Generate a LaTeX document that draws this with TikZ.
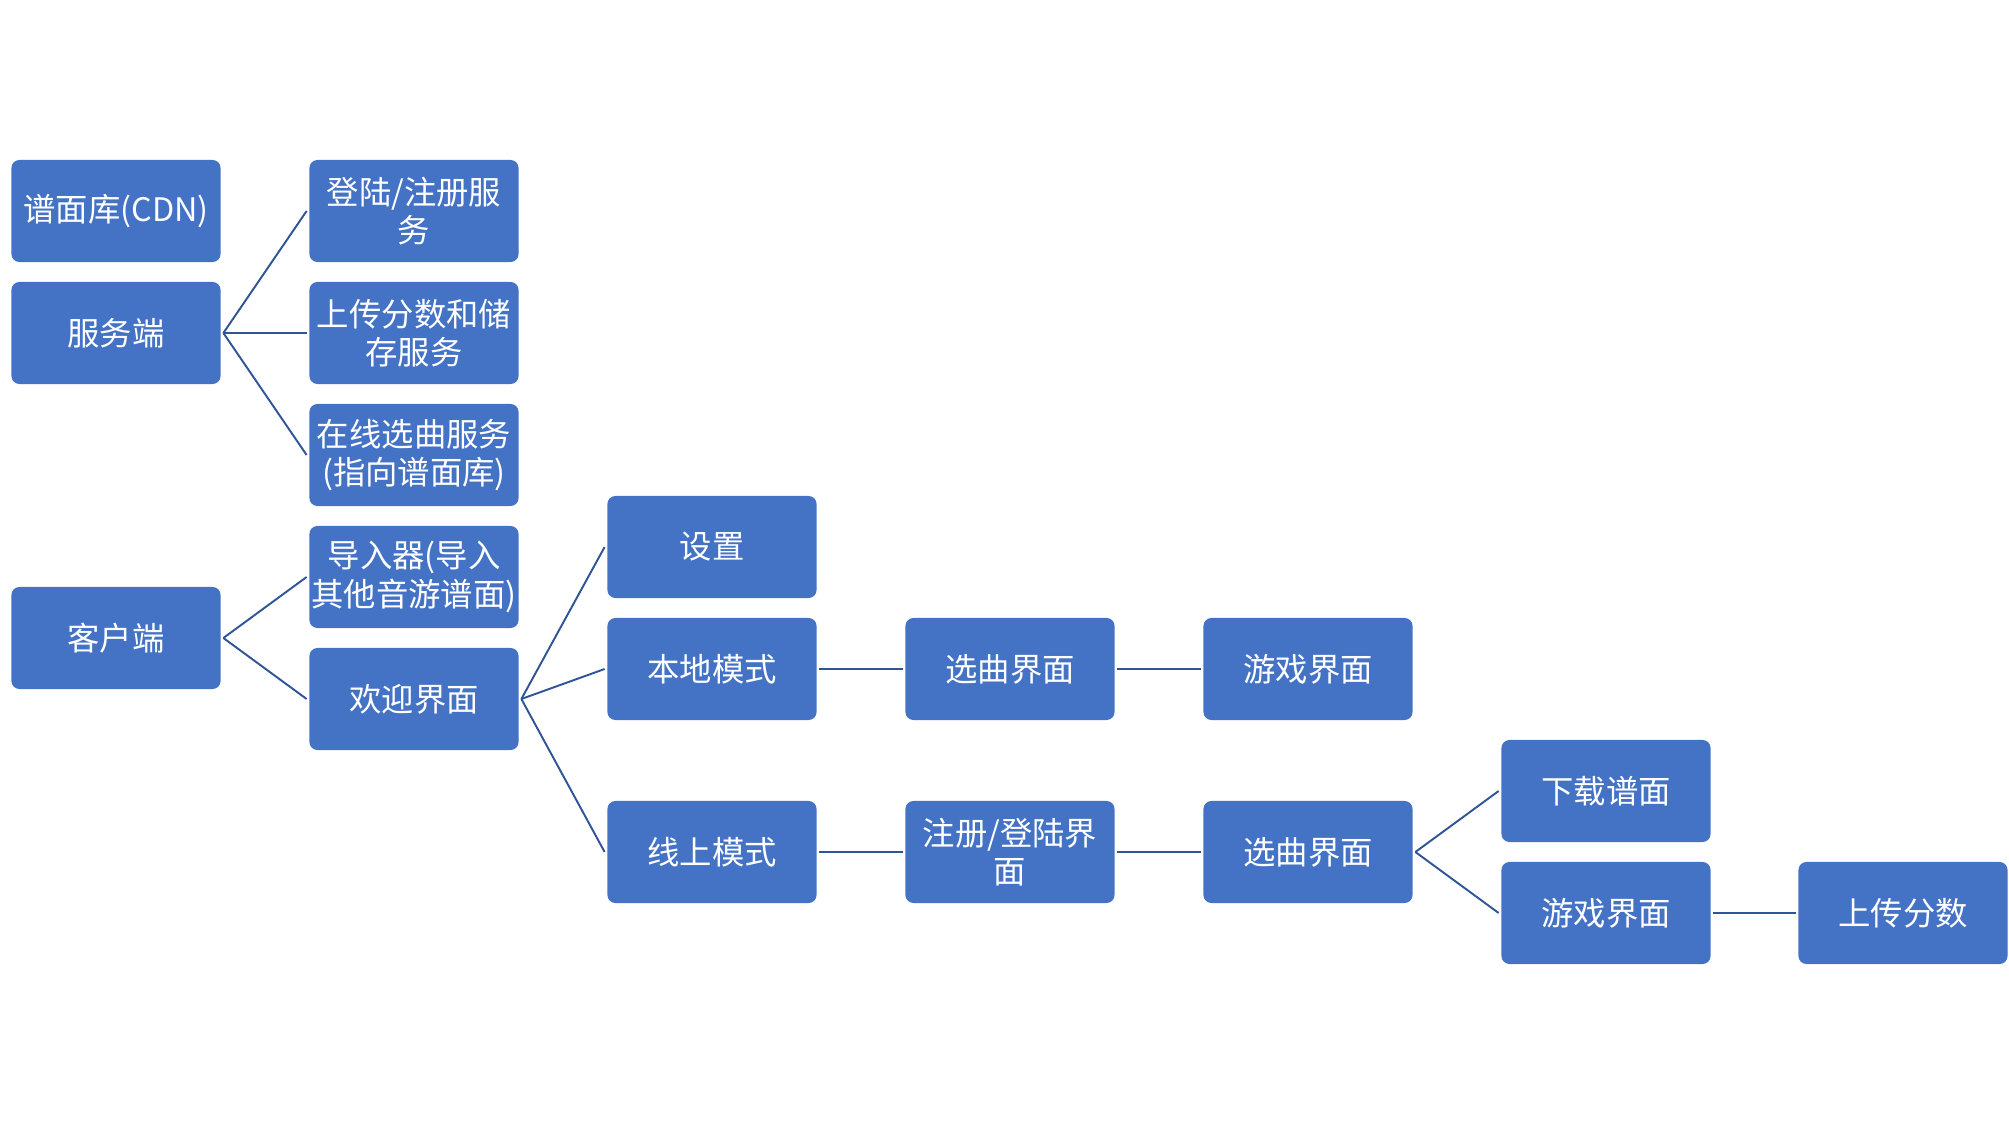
\documentclass[tikz,border=0pt]{standalone}
\usepackage{fontspec}
\setmainfont{Noto Sans CJK SC}
\definecolor{boxblue}{HTML}{4472C4}
\definecolor{lineblue}{HTML}{2F5597}
\tikzset{
    box/.style={rectangle, rounded corners=0.08cm, fill=boxblue, text=white,
        minimum width=2.09cm, minimum height=1.02cm, inner sep=0pt, align=center,
        font=\fontsize{9.2}{10.9}\selectfont, outer sep=0.8pt},
    link/.style={lineblue, line width=0.55pt}
}
\begin{document}
\begin{tikzpicture}[x=0.01cm, y=-0.01cm]
    \useasboundingbox (0,0) rectangle (2009,1125);

    % server side
    \node[box] (cdn) at (116,211) {谱面库(CDN)};
    \node[box] (server) at (116,333) {服务端};
    \node[box] (login) at (414,211) {登陆/注册服\\务};
    \node[box] (upload) at (414,333) {上传分数和储\\存服务};
    \node[box] (online) at (414,455) {在线选曲服务\\(指向谱面库)};

    % client side
    \node[box] (client) at (116,638) {客户端};
    \node[box] (import) at (414,577) {导入器(导入\\其他音游谱面)};
    \node[box] (welcome) at (414,699) {欢迎界面};
    \node[box] (settings) at (712,547) {设置};
    \node[box] (local) at (712,669) {本地模式};
    \node[box] (net) at (712,852) {线上模式};
    \node[box] (pickA) at (1010,669) {选曲界面};
    \node[box] (gameA) at (1308,669) {游戏界面};
    \node[box] (reg) at (1010,852) {注册/登陆界\\面};
    \node[box] (pickB) at (1308,852) {选曲界面};
    \node[box] (down) at (1606,791) {下载谱面};
    \node[box] (gameB) at (1606,913) {游戏界面};
    \node[box] (score) at (1903,913) {上传分数};

    \foreach \a/\b in {server/login,server/upload,server/online,
        client/import,client/welcome,welcome/settings,welcome/local,welcome/net,
        local/pickA,pickA/gameA,net/reg,reg/pickB,pickB/down,pickB/gameB,gameB/score} {
        \draw[link] (\a.east) -- (\b.west);
    }
\end{tikzpicture}
\end{document}
